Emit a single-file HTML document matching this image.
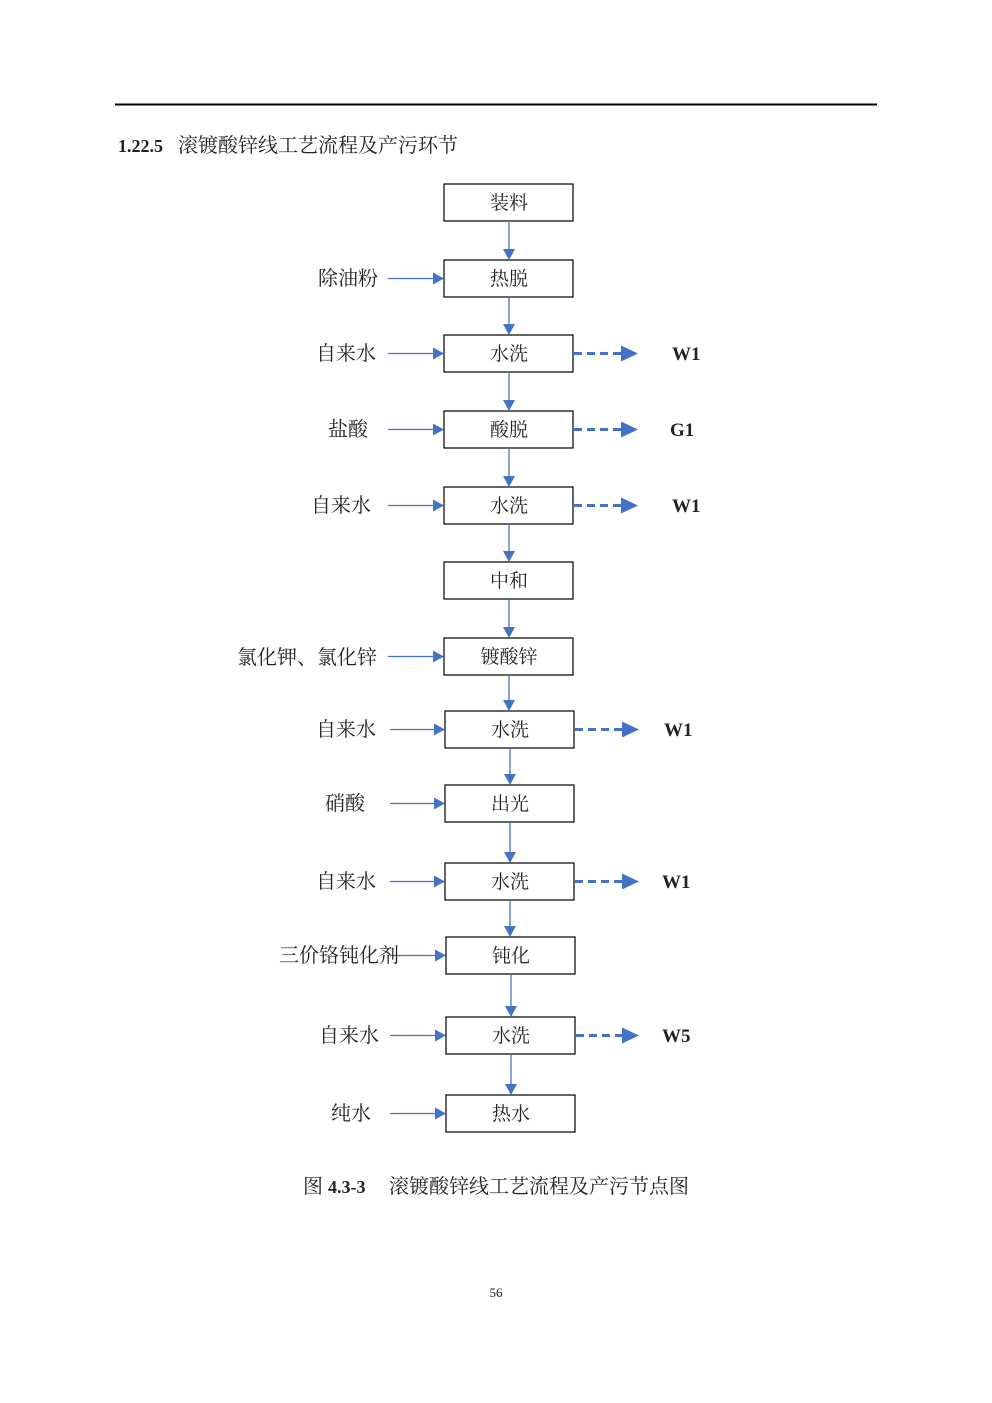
<!DOCTYPE html>
<html><head><meta charset="utf-8"><style>
body{margin:0;background:#fff;}
svg{display:block;}
text{font-family:"Liberation Serif","Noto Serif CJK SC","Noto Sans CJK SC",serif;fill:#222;}
.b{fill:#fff;stroke:#000;stroke-width:1.2}
.l{stroke:#4472C4;stroke-width:1.3}
.d{stroke:#4472C4;stroke-width:3;stroke-dasharray:8,5}
.t{fill:#4472C4}
</style></head><body>
<svg width="992" height="1403" viewBox="0 0 992 1403" xmlns="http://www.w3.org/2000/svg">
<line x1="115" y1="104.5" x2="877" y2="104.5" stroke="#000" stroke-width="2"/>
<text x="118" y="152" font-size="20"><tspan font-weight="bold" font-size="18">1.22.5</tspan><tspan x="178">滚镀酸锌线工艺流程及产污环节</tspan></text>

<rect class="b" x="444" y="184" width="129" height="37"/>
<rect class="b" x="444" y="260" width="129" height="37"/>
<rect class="b" x="444" y="335" width="129" height="37"/>
<rect class="b" x="444" y="411" width="129" height="37"/>
<rect class="b" x="444" y="487" width="129" height="37"/>
<rect class="b" x="444" y="562" width="129" height="37"/>
<rect class="b" x="444" y="638" width="129" height="37"/>
<rect class="b" x="445" y="711" width="129" height="37"/>
<rect class="b" x="445" y="785" width="129" height="37"/>
<rect class="b" x="445" y="863" width="129" height="37"/>
<rect class="b" x="446" y="937" width="129" height="37"/>
<rect class="b" x="446" y="1017" width="129" height="37"/>
<rect class="b" x="446" y="1095" width="129" height="37"/>

<g font-size="19" text-anchor="middle">
<text x="509" y="209">装料</text>
<text x="509" y="285">热脱</text>
<text x="509" y="360">水洗</text>
<text x="509" y="436">酸脱</text>
<text x="509" y="512">水洗</text>
<text x="509" y="587">中和</text>
<text x="509" y="663">镀酸锌</text>
<text x="510" y="736">水洗</text>
<text x="510" y="810">出光</text>
<text x="510" y="888">水洗</text>
<text x="511" y="962">钝化</text>
<text x="511" y="1042">水洗</text>
<text x="511" y="1120">热水</text>
</g>

<line class="l" x1="509" y1="221" x2="509" y2="250"/><polygon class="t" points="503,249 515,249 509,260"/>
<line class="l" x1="509" y1="297" x2="509" y2="325"/><polygon class="t" points="503,324 515,324 509,335"/>
<line class="l" x1="509" y1="372" x2="509" y2="401"/><polygon class="t" points="503,400 515,400 509,411"/>
<line class="l" x1="509" y1="448" x2="509" y2="477"/><polygon class="t" points="503,476 515,476 509,487"/>
<line class="l" x1="509" y1="524" x2="509" y2="552"/><polygon class="t" points="503,551 515,551 509,562"/>
<line class="l" x1="509" y1="599" x2="509" y2="628"/><polygon class="t" points="503,627 515,627 509,638"/>
<line class="l" x1="509" y1="675" x2="509" y2="701"/><polygon class="t" points="503,700 515,700 509,711"/>
<line class="l" x1="510" y1="748" x2="510" y2="775"/><polygon class="t" points="504,774 516,774 510,785"/>
<line class="l" x1="510" y1="822" x2="510" y2="853"/><polygon class="t" points="504,852 516,852 510,863"/>
<line class="l" x1="510" y1="900" x2="510" y2="927"/><polygon class="t" points="504,926 516,926 510,937"/>
<line class="l" x1="511" y1="974" x2="511" y2="1007"/><polygon class="t" points="505,1006 517,1006 511,1017"/>
<line class="l" x1="511" y1="1054" x2="511" y2="1085"/><polygon class="t" points="505,1084 517,1084 511,1095"/>

<line class="l" x1="388" y1="278.5" x2="434" y2="278.5"/><polygon class="t" points="433,272.5 433,284.5 444,278.5"/>
<line class="l" x1="388" y1="353.5" x2="434" y2="353.5"/><polygon class="t" points="433,347.5 433,359.5 444,353.5"/>
<line class="l" x1="388" y1="429.5" x2="434" y2="429.5"/><polygon class="t" points="433,423.5 433,435.5 444,429.5"/>
<line class="l" x1="388" y1="505.5" x2="434" y2="505.5"/><polygon class="t" points="433,499.5 433,511.5 444,505.5"/>
<line class="l" x1="388" y1="656.5" x2="434" y2="656.5"/><polygon class="t" points="433,650.5 433,662.5 444,656.5"/>
<line class="l" x1="390" y1="729.5" x2="435" y2="729.5"/><polygon class="t" points="434,723.5 434,735.5 445,729.5"/>
<line class="l" x1="390" y1="803.5" x2="435" y2="803.5"/><polygon class="t" points="434,797.5 434,809.5 445,803.5"/>
<line class="l" x1="390" y1="881.5" x2="435" y2="881.5"/><polygon class="t" points="434,875.5 434,887.5 445,881.5"/>
<line class="l" x1="390" y1="955.5" x2="436" y2="955.5"/><polygon class="t" points="435,949.5 435,961.5 446,955.5"/>
<line class="l" x1="390" y1="1035.5" x2="436" y2="1035.5"/><polygon class="t" points="435,1029.5 435,1041.5 446,1035.5"/>
<line class="l" x1="390" y1="1113.5" x2="436" y2="1113.5"/><polygon class="t" points="435,1107.5 435,1119.5 446,1113.5"/>

<g font-size="20" text-anchor="end">
<text x="378" y="285">除油粉</text>
<text x="376" y="360">自来水</text>
<text x="368" y="436">盐酸</text>
<text x="371" y="512">自来水</text>
<text x="377" y="664">氯化钾、氯化锌</text>
<text x="376" y="736">自来水</text>
<text x="365" y="810">硝酸</text>
<text x="376" y="888">自来水</text>
<text x="399" y="962">三价铬钝化剂</text>
<text x="379" y="1042">自来水</text>
<text x="371" y="1120">纯水</text>
</g>

<line class="d" x1="574" y1="353.5" x2="621" y2="353.5"/><polygon class="t" points="621,345.5 621,361.5 638,353.5"/>
<line class="d" x1="574" y1="429.5" x2="621" y2="429.5"/><polygon class="t" points="621,421.5 621,437.5 638,429.5"/>
<line class="d" x1="574" y1="505.5" x2="621" y2="505.5"/><polygon class="t" points="621,497.5 621,513.5 638,505.5"/>
<line class="d" x1="575" y1="729.5" x2="622" y2="729.5"/><polygon class="t" points="622,721.5 622,737.5 639,729.5"/>
<line class="d" x1="575" y1="881.5" x2="622" y2="881.5"/><polygon class="t" points="622,873.5 622,889.5 639,881.5"/>
<line class="d" x1="576" y1="1035.5" x2="622" y2="1035.5"/><polygon class="t" points="622,1027.5 622,1043.5 639,1035.5"/>

<g font-size="19" font-weight="bold">
<text x="672" y="360">W1</text>
<text x="670" y="436">G1</text>
<text x="672" y="512">W1</text>
<text x="664" y="736">W1</text>
<text x="662" y="888">W1</text>
<text x="662" y="1042">W5</text>
</g>

<text x="303" y="1193" font-size="20">图 <tspan font-weight="bold" font-size="18">4.3-3</tspan><tspan x="389">滚镀酸锌线工艺流程及产污节点图</tspan></text>
<text x="496" y="1297" font-size="13" text-anchor="middle">56</text>
</svg>
</body></html>
